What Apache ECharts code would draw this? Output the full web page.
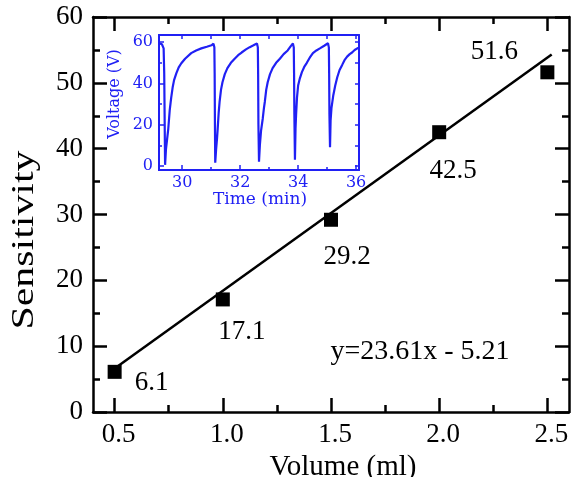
<!DOCTYPE html>
<html>
<head>
<meta charset="utf-8">
<script src="https://cdn.jsdelivr.net/npm/echarts@6/dist/echarts.min.js"></script>
<style>
  html, body { margin: 0; padding: 0; background: #fff; }
  #chart { width: 572px; height: 477px; }
</style>
</head>
<body>
<div id="chart"></div>
<script>
// Calibration points: sensitivity against sample volume
const volumes = [0.5, 1.0, 1.5, 2.0, 2.5];
const sensitivities = [6.1, 17.1, 29.2, 42.5, 51.6];

// Least-squares fit y = slope * x + intercept, drawn over this volume span
const fitSlope = 23.61;
const fitIntercept = -5.21;
const fitRange = [0.5, 2.52];

// Main axis ticks
const volumeTicks = [0.5, 1.0, 1.5, 2.0, 2.5];
const volumeMinorTicks = [0.75, 1.25, 1.75, 2.25];

// Inset: voltage trace over time (min, V)
const insetTime = [
  29.20, 29.30, 29.36, 29.38, 29.40, 29.41,
  29.44, 29.48, 29.52, 29.57, 29.62, 29.67, 29.72, 29.80, 29.88, 29.97, 30.10, 30.31, 30.48, 30.66, 30.85, 31.01, 31.08, 31.11, 31.12, 31.13, 31.14,
  31.17, 31.20, 31.22, 31.26, 31.29, 31.34, 31.39, 31.47, 31.56, 31.68, 31.81, 31.93, 32.05, 32.20, 32.33, 32.46, 32.58, 32.61, 32.62, 32.63, 32.65,
  32.68, 32.72, 32.78, 32.82, 32.85, 32.90, 32.95, 33.03, 33.12, 33.24, 33.37, 33.50, 33.64, 33.74, 33.82, 33.85, 33.86, 33.87, 33.89,
  33.91, 33.93, 33.96, 34.00, 34.06, 34.13, 34.21, 34.30, 34.40, 34.51, 34.63, 34.75, 34.90, 35.03, 35.06, 35.07, 35.08, 35.10,
  35.12, 35.15, 35.21, 35.28, 35.35, 35.43, 35.52, 35.60, 35.69, 35.78, 35.86, 35.95, 36.04, 36.10
];
const insetVoltage = [
  59.5, 59.0, 57.0, 45, 15, 0.5,
  8, 13, 18, 27, 33, 38, 41.6, 45, 47.8, 49.8, 52, 54.7, 56, 57, 57.8, 58.5, 59.3, 57.5, 45, 20, 1.5,
  8, 13, 17, 26, 31, 37, 40.6, 44.5, 47.4, 50, 52, 53.7, 55, 56.5, 57.6, 58.5, 59.4, 57.5, 45, 20, 2,
  10, 17, 23, 28, 31, 37, 40.6, 44.5, 47.4, 50, 52, 54.2, 56, 58, 59.4, 57.5, 45, 25, 3,
  18, 25, 33, 39, 42.5, 45.5, 48, 50, 52.5, 54.7, 56, 57, 58.3, 59.5, 57.5, 45, 25, 9,
  22, 28, 34, 39, 43, 46.5, 49, 51.3, 53, 54.2, 55, 56.2, 57, 57.3
];
const timeTicks = [30, 32, 34, 36];
const timeMinorTicks = [31, 33, 35];
const timeAllTicks = [30, 31, 32, 33, 34, 35, 36];
const voltageTicks = [0, 20, 40, 60];
const voltageMinorTicks = [10, 30, 50];
const voltageAllTicks = [0, 10, 20, 30, 40, 50, 60];

const serif = 'Liberation Serif';
const BLACK = '#000';
const BLUE = '#2020f4';

const fitLine = fitRange.map(x => [x, fitSlope * x + fitIntercept]);
const points = volumes.map((v, i) => [v, sensitivities[i]]);
const insetData = insetTime.map((t, i) => [t, insetVoltage[i]]);

// label placement around each marker (px)
const labelOffsets = [[37, 11], [19, 32], [16, 37], [14, 39], [-53, -20]];

function mainX(position, ticks, len, showLabel, showLine) {
  return {
    type: 'value', gridIndex: 0, position: position, min: 0.4, max: 2.6,
    axisLine: { show: showLine, onZero: false, lineStyle: { color: BLACK, width: 2.5 } },
    axisTick: { show: true, inside: true, length: len, customValues: ticks, lineStyle: { color: BLACK, width: 2.5 } },
    axisLabel: showLabel ? {
      show: true, customValues: ticks, margin: 9, padding: [0, 0, 0, 8],
      fontFamily: serif, fontSize: 27, color: BLACK,
      formatter: v => v.toFixed(1)
    } : { show: false },
    splitLine: { show: false }
  };
}

function insetX(position, ticks, len, showLabel) {
  return {
    type: 'value', gridIndex: 1, position: position, min: 29.2, max: 36.1,
    axisLine: { show: true, onZero: false, lineStyle: { color: BLUE, width: 2 } },
    axisTick: { show: true, inside: true, length: len, customValues: ticks, lineStyle: { color: BLUE, width: 1.5 } },
    axisLabel: showLabel ? {
      show: true, customValues: ticks, margin: 5,
      fontFamily: 'DejaVu Serif', fontSize: 16, color: BLUE
    } : { show: false },
    splitLine: { show: false }
  };
}

function insetY(position, ticks, len, showLabel) {
  return {
    type: 'value', gridIndex: 1, position: position, min: -2, max: 63.5,
    axisLine: { show: true, onZero: false, lineStyle: { color: BLUE, width: 2 } },
    axisTick: { show: true, inside: true, length: len, customValues: ticks, lineStyle: { color: BLUE, width: 1.5 } },
    axisLabel: showLabel ? {
      show: true, customValues: ticks, margin: 6,
      fontFamily: 'DejaVu Serif', fontSize: 16, color: BLUE
    } : { show: false },
    splitLine: { show: false }
  };
}

function mainY(position, showLabel) {
  return {
    type: 'value', gridIndex: 0, position: position, min: 0, max: 60, interval: 10,
    axisLine: { show: true, onZero: false, lineStyle: { color: BLACK, width: 2.5 } },
    axisTick: { show: true, inside: true, length: 14, lineStyle: { color: BLACK, width: 2.5 } },
    minorTick: { show: true, splitNumber: 2, length: 7, lineStyle: { color: BLACK, width: 2.5 } },
    axisLabel: showLabel ? {
      show: true, margin: 10, padding: [10, 0, 0, 0],
      fontFamily: serif, fontSize: 27, color: BLACK
    } : { show: false },
    splitLine: { show: false },
    minorSplitLine: { show: false }
  };
}

const chart = echarts.init(document.getElementById('chart'), null, { renderer: 'canvas' });

chart.setOption({
  backgroundColor: '#fff',
  animation: false,
  grid: [
    { left: 93, top: 17, width: 476, height: 395, containLabel: false, outerBoundsMode: 'none' },
    { left: 159, top: 35, width: 200, height: 135, containLabel: false, outerBoundsMode: 'none',
      show: true, backgroundColor: '#fff', borderWidth: 0 }
  ],
  xAxis: [
    mainX('bottom', volumeTicks, 14, true, true),
    mainX('bottom', volumeMinorTicks, 7, false, false),
    mainX('top', volumeTicks, 14, false, true),
    mainX('top', volumeMinorTicks, 7, false, false),
    insetX('bottom', timeTicks, 5, true),
    insetX('bottom', timeMinorTicks, 3, false),
    insetX('top', timeAllTicks, 4, false)
  ],
  yAxis: [
    mainY('left', true),
    mainY('right', false),
    insetY('left', voltageTicks, 5, true),
    insetY('left', voltageMinorTicks, 3, false),
    insetY('right', voltageAllTicks, 4, false)
  ],
  series: [
    {
      name: 'Fit', type: 'line', xAxisIndex: 0, yAxisIndex: 0,
      data: fitLine, showSymbol: false, symbol: 'none',
      lineStyle: { color: BLACK, width: 2.5 }, z: 2, silent: true
    },
    {
      name: 'Sensitivity', type: 'scatter', xAxisIndex: 0, yAxisIndex: 0,
      data: points.map((p, i) => ({
        value: p,
        label: { offset: labelOffsets[i] }
      })),
      symbol: 'rect', symbolSize: 14,
      itemStyle: { color: BLACK, opacity: 1 },
      label: {
        show: true, position: 'inside',
        fontFamily: serif, fontSize: 27, color: BLACK, opacity: 1,
        formatter: p => p.value[1].toFixed(1)
      },
      z: 3
    },
    {
      name: 'Voltage', type: 'line', xAxisIndex: 4, yAxisIndex: 2,
      data: insetData, showSymbol: false, symbol: 'none',
      lineStyle: { color: BLUE, width: 2.2 }, z: 5
    }
  ],
  graphic: [
    { type: 'text', x: 25, y: 240, rotation: Math.PI / 2, scaleX: 1.35, z: 10,
      style: { text: 'Sensitivity', font: '31px "Liberation Serif"', fill: BLACK,
               textAlign: 'center', textVerticalAlign: 'middle', verticalAlign: 'middle' } },
    { type: 'text', x: 343, y: 467, z: 10,
      style: { text: 'Volume (ml)', font: '29px "Liberation Serif"', fill: BLACK,
               textAlign: 'center', textVerticalAlign: 'middle', verticalAlign: 'middle' } },
    { type: 'text', x: 420, y: 352, z: 10,
      style: { text: 'y=23.61x - 5.21', font: '28px "Liberation Serif"', fill: BLACK,
               textAlign: 'center', textVerticalAlign: 'middle', verticalAlign: 'middle' } },
    { type: 'text', x: 115, y: 94, rotation: Math.PI / 2, z: 10,
      style: { text: 'Voltage (V)', font: '16px "DejaVu Serif"', fill: BLUE,
               textAlign: 'center', textVerticalAlign: 'middle', verticalAlign: 'middle' } },
    { type: 'text', x: 260, y: 200, z: 10,
      style: { text: 'Time (min)', font: '17px "DejaVu Serif"', fill: BLUE,
               textAlign: 'center', textVerticalAlign: 'middle', verticalAlign: 'middle' } }
  ]
});
</script>
</body>
</html>
